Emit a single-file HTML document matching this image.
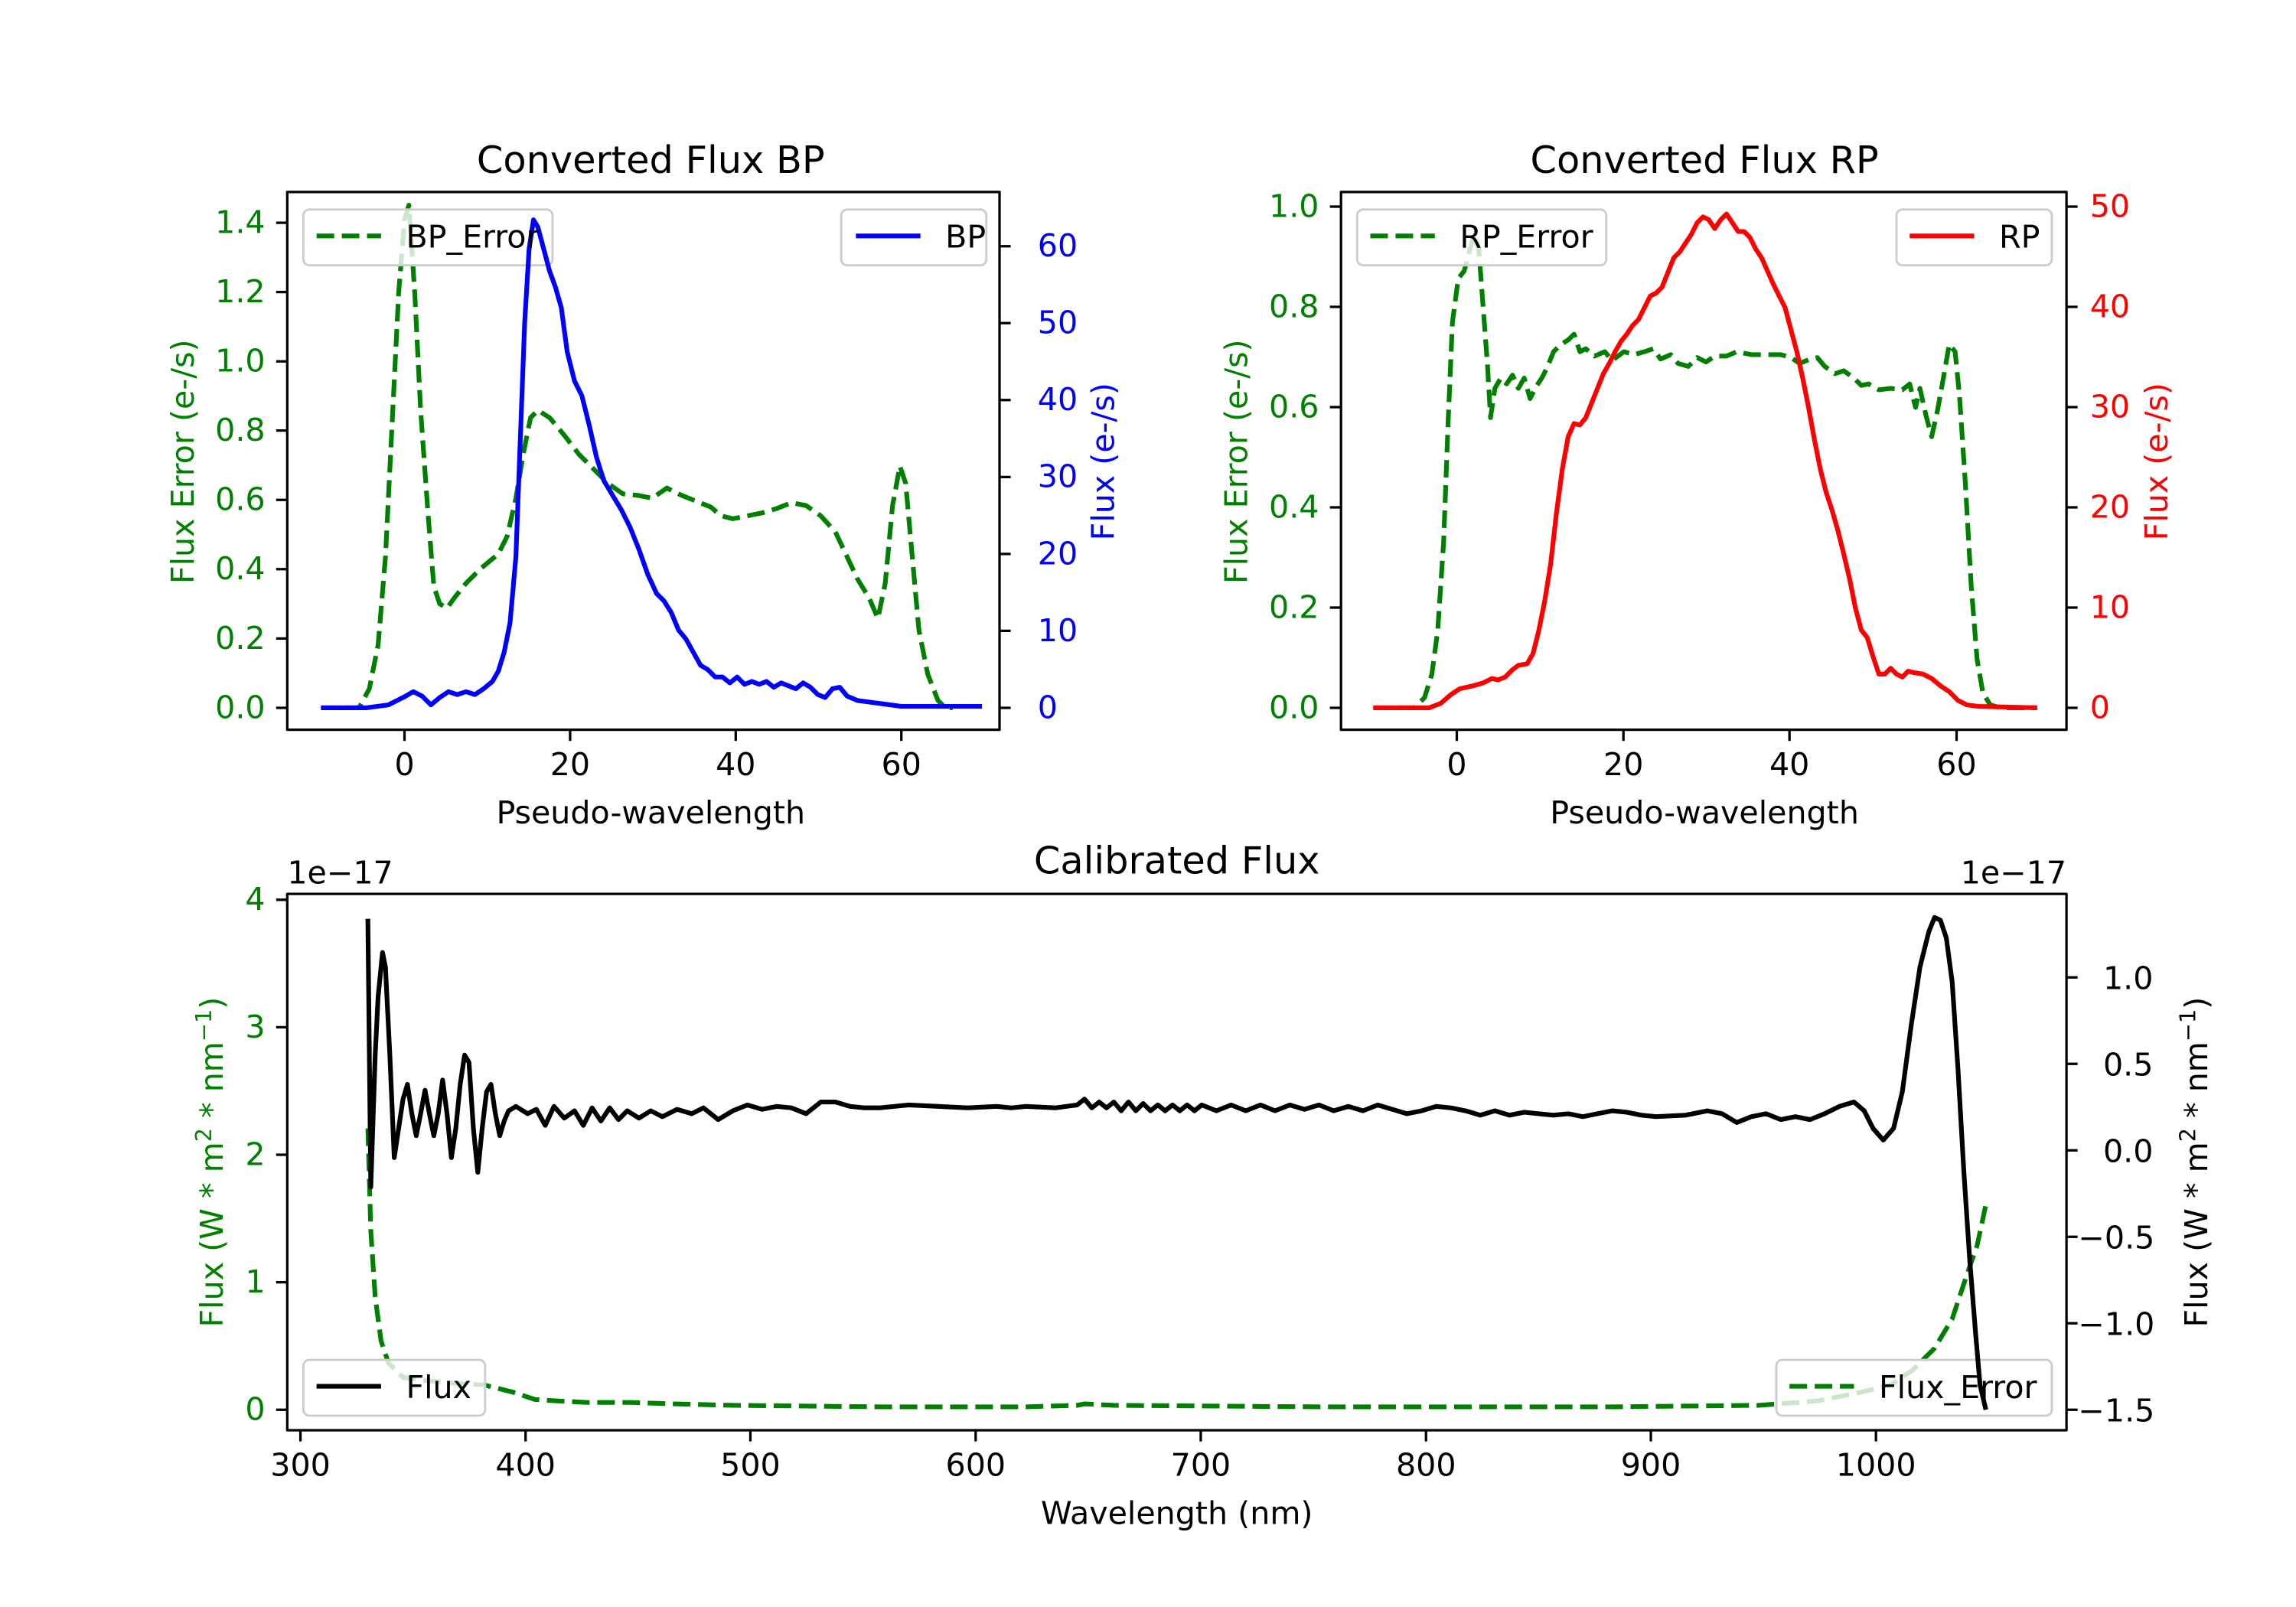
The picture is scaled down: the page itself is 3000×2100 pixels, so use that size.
<!DOCTYPE html>
<html><head><meta charset="utf-8"><style>
html,body{margin:0;padding:0;background:#fff;}
svg{display:block;}
text{font-family:"DejaVu Sans","Liberation Sans",sans-serif;font-size:21.5px;}
.t{font-size:25.8px;}
.s{font-size:15px;}
</style></head><body>
<svg width="3000" height="2100" viewBox="0 0 1566.6 1096.6" xmlns="http://www.w3.org/2000/svg">
<rect width="1566.6" height="1096.6" fill="#fff"/>
<g fill="none" stroke-linejoin="round" stroke-linecap="butt">
<!-- ===== Top-left ===== -->
<polyline stroke="green" stroke-width="3.2" stroke-dasharray="12,5.2" points="219,483 245,483 252,470 258,440 263,380 268,280 272,200 276,150 279,140 283,200 287,280 292,350 296,400 300,412 305,415 310,408 318,398 328,388 340,378 346,366 352,340 357,310 362,285 367,280 375,285 385,297 395,310 405,320 415,330 425,337 435,338 445,340 455,333 465,338 475,342 485,346 492,352 500,354 510,352 520,350 530,347 540,343 550,345 560,352 570,363 578,380 585,395 593,408 599,422 604,398 609,345 614,318 618,330 622,375 627,430 633,460 640,478 645,483 650,483"/>
<rect x="207" y="143" width="170" height="38" rx="4" fill="#fff" fill-opacity="0.8" stroke="#ccc" stroke-width="1.5"/>
<line x1="216" y1="161" x2="260" y2="161" stroke="green" stroke-width="3.2" stroke-dasharray="12,5.2"/>
<polyline stroke="blue" stroke-width="3.2" points="219,483 250,483 265,481 275,476 282,472 288,475 294,481 300,476 306,472 312,474 318,472 324,474 330,470 336,465 340,458 344,445 348,425 352,380 355,300 358,220 361,170 364,150 367,155 371,170 375,185 379,196 383,210 387,240 392,260 397,270 402,290 407,312 412,328 418,338 424,348 430,360 436,375 442,392 448,405 453,410 458,418 463,430 468,436 473,445 478,454 483,457 488,462 493,462 498,466 503,462 508,467 513,465 518,467 523,465 528,469 533,466 538,468 543,470 548,466 553,469 558,474 563,476 568,470 573,469 578,475 585,478 600,480 615,482 640,482 670,482"/>
<rect x="574" y="143" width="99" height="38" rx="4" fill="#fff" fill-opacity="0.8" stroke="#ccc" stroke-width="1.5"/>
<line x1="584" y1="161" x2="628" y2="161" stroke="blue" stroke-width="3.2"/>
<rect x="196" y="131" width="486" height="367" stroke="#000" stroke-width="1.7"/>
<!-- ===== Top-right ===== -->
<polyline stroke="green" stroke-width="3.2" stroke-dasharray="12,5.2" points="937,483 965,483 972,476 977,460 981,430 985,370 988,290 991,220 995,190 999,185 1003,170 1006,160 1009,170 1012,210 1015,250 1017,285 1020,265 1024,258 1028,262 1032,256 1036,265 1040,258 1044,272 1048,264 1052,258 1056,250 1060,240 1065,235 1070,232 1074,228 1078,240 1082,238 1088,243 1095,240 1100,246 1108,240 1115,242 1122,240 1128,238 1133,245 1140,242 1145,248 1152,250 1158,244 1164,247 1170,243 1178,243 1185,240 1195,242 1205,242 1215,242 1222,244 1228,248 1235,245 1240,244 1245,250 1252,255 1258,253 1265,258 1270,263 1275,262 1282,266 1290,265 1298,266 1303,262 1307,278 1310,265 1314,283 1318,298 1322,280 1326,258 1330,235 1334,240 1337,270 1341,330 1345,400 1349,450 1353,473 1358,481 1365,483 1390,483"/>
<rect x="926" y="143" width="170" height="38" rx="4" fill="#fff" fill-opacity="0.8" stroke="#ccc" stroke-width="1.5"/>
<line x1="935" y1="161" x2="979" y2="161" stroke="green" stroke-width="3.2" stroke-dasharray="12,5.2"/>
<polyline stroke="red" stroke-width="3.2" points="937,483 975,483 983,480 990,474 996,470 1005,468 1012,466 1018,463 1022,464 1027,462 1032,457 1036,454 1042,453 1046,446 1050,430 1054,410 1058,385 1062,350 1066,320 1070,298 1074,289 1078,290 1082,285 1086,275 1090,265 1094,255 1098,248 1102,240 1106,233 1110,228 1114,222 1118,218 1122,210 1126,202 1130,200 1134,196 1138,186 1142,176 1146,172 1150,166 1154,160 1158,152 1162,148 1166,150 1170,156 1174,150 1178,146 1182,152 1186,158 1190,158 1194,162 1198,170 1202,176 1206,185 1210,194 1214,202 1218,210 1222,225 1226,240 1230,258 1234,278 1238,300 1242,320 1246,336 1250,348 1254,362 1258,378 1262,395 1266,415 1270,430 1274,435 1278,448 1282,460 1286,460 1290,456 1294,460 1298,462 1302,458 1306,459 1312,460 1318,463 1324,468 1330,472 1336,478 1342,481 1350,482 1390,483"/>
<rect x="1294" y="143" width="106" height="38" rx="4" fill="#fff" fill-opacity="0.8" stroke="#ccc" stroke-width="1.5"/>
<line x1="1303" y1="161" x2="1347" y2="161" stroke="red" stroke-width="3.2"/>
<rect x="915" y="131" width="495" height="367" stroke="#000" stroke-width="1.7"/>
<!-- ===== Bottom ===== -->
<polyline stroke="green" stroke-width="3.2" stroke-dasharray="12,5.2" points="251,770 253,840 256,885 260,915 265,930 275,940 290,942 310,944 330,945 350,950 365,955 380,956 400,957 430,957 460,958 500,959 600,960 700,960 735,959 740,958 760,959 900,960 1100,960 1200,959 1240,956 1270,950 1290,945 1305,935 1320,920 1332,900 1342,870 1349,850 1355,822"/>
<rect x="1212" y="928" width="188" height="38" rx="4" fill="#fff" fill-opacity="0.8" stroke="#ccc" stroke-width="1.5"/>
<line x1="1221" y1="946" x2="1265" y2="946" stroke="green" stroke-width="3.2" stroke-dasharray="12,5.2"/>
<polyline stroke="#000" stroke-width="3.2" points="251,627 253,810 256,720 258,680 261,650 263,660 266,720 269,790 272,770 275,750 278,740 281,760 284,775 287,760 290,744 293,760 296,775 299,760 302,737 305,760 308,790 311,770 314,740 317,720 320,725 323,770 326,800 329,770 332,745 335,740 338,760 341,775 344,765 347,758 352,755 360,760 366,757 372,768 378,755 385,763 392,758 398,768 404,756 410,765 416,756 422,764 428,758 436,763 444,758 452,762 462,757 472,760 480,756 490,764 500,758 510,754 520,757 530,755 540,756 550,760 560,752 570,752 580,755 590,756 600,756 620,754 640,755 660,756 680,755 690,756 700,755 720,756 735,754 740,750 745,756 750,752 755,756 760,752 765,758 770,752 775,758 780,753 785,758 790,754 795,758 800,754 805,758 810,754 815,758 820,754 830,758 840,754 850,758 860,754 870,758 880,754 890,757 900,754 910,758 920,755 930,758 940,754 950,757 960,760 970,758 980,755 990,756 1000,758 1010,761 1020,758 1030,761 1040,759 1050,760 1060,761 1070,760 1080,762 1090,760 1100,758 1110,759 1120,761 1130,762 1150,761 1165,758 1175,760 1185,766 1195,762 1205,760 1215,764 1225,762 1235,764 1245,760 1255,755 1265,752 1272,758 1278,770 1285,778 1292,770 1298,745 1304,700 1310,660 1316,636 1320,626 1324,628 1328,640 1332,670 1336,730 1340,800 1344,860 1348,910 1351,945 1355,962"/>
<rect x="207" y="928" width="124" height="38" rx="4" fill="#fff" fill-opacity="0.8" stroke="#ccc" stroke-width="1.5"/>
<line x1="216" y1="946" x2="260" y2="946" stroke="#000" stroke-width="3.2"/>
<rect x="196" y="610" width="1214" height="366" stroke="#000" stroke-width="1.7"/>
<!-- ticks -->
<g stroke="#000" stroke-width="1.7">
<path d="M276,498v7.6M389,498v7.6M502,498v7.6M615,498v7.6"/>
<path d="M196,483h-7.6M196,435.7h-7.6M196,388.4h-7.6M196,341.1h-7.6M196,293.8h-7.6M196,246.6h-7.6M196,199.3h-7.6M196,152h-7.6"/>
<path d="M682,483h7.6M682,430.5h7.6M682,378h7.6M682,325.5h7.6M682,273h7.6M682,220.5h7.6M682,168h7.6"/>
<path d="M994,498v7.6M1107.7,498v7.6M1221,498v7.6M1335,498v7.6"/>
<path d="M915,483h-7.6M915,414.6h-7.6M915,346.2h-7.6M915,277.8h-7.6M915,209.4h-7.6M915,141h-7.6"/>
<path d="M1410,483h7.6M1410,414.6h7.6M1410,346.2h7.6M1410,277.8h7.6M1410,209.4h7.6M1410,141h7.6"/>
<path d="M205,976v7.6M358.6,976v7.6M512,976v7.6M665.7,976v7.6M819.3,976v7.6M973,976v7.6M1126.4,976v7.6M1280,976v7.6"/>
<path d="M196,962h-7.6M196,875h-7.6M196,788h-7.6M196,701h-7.6M196,614h-7.6"/>
<path d="M1410,962h7.6M1410,903h7.6M1410,844h7.6M1410,785h7.6M1410,726h7.6M1410,667h7.6"/>
</g>
</g>
<!-- text -->
<g fill="#000">
<text class="t" x="444" y="118" text-anchor="middle">Converted Flux BP</text>
<text class="t" x="1163" y="118" text-anchor="middle">Converted Flux RP</text>
<text class="t" x="803" y="596" text-anchor="middle">Calibrated Flux</text>
<text x="277" y="169">BP_Error</text>
<text x="645" y="169">BP</text>
<text x="996" y="169">RP_Error</text>
<text x="1364" y="169">RP</text>
<text x="277" y="954">Flux</text>
<text x="1282" y="954">Flux_Error</text>
<g text-anchor="middle">
<text x="276" y="529">0</text><text x="389" y="529">20</text><text x="502" y="529">40</text><text x="615" y="529">60</text>
<text x="994" y="529">0</text><text x="1107.7" y="529">20</text><text x="1221" y="529">40</text><text x="1335" y="529">60</text>
<text x="205" y="1007">300</text><text x="358.6" y="1007">400</text><text x="512" y="1007">500</text><text x="665.7" y="1007">600</text><text x="819.3" y="1007">700</text><text x="973" y="1007">800</text><text x="1126.4" y="1007">900</text><text x="1280" y="1007">1000</text>
<text x="444" y="562">Pseudo-wavelength</text>
<text x="1163" y="562">Pseudo-wavelength</text>
<text x="803" y="1040">Wavelength (nm)</text>
</g>
<text x="196" y="603">1e−17</text>
<text x="1410" y="603" text-anchor="end">1e−17</text>
<g text-anchor="start">
<text x="1418" y="970">−1.5</text><text x="1418" y="911">−1.0</text><text x="1418" y="852">−0.5</text><text x="1435" y="793">0.0</text><text x="1435" y="734">0.5</text><text x="1435" y="675">1.0</text>
</g>
<text transform="translate(1506,793) rotate(-90)" text-anchor="middle">Flux (W * m<tspan class="s" dy="-8">2</tspan><tspan dy="8"> * nm</tspan><tspan class="s" dy="-8">−1</tspan><tspan dy="8">)</tspan></text>
</g>
<g fill="green" text-anchor="end">
<text x="181" y="490">0.0</text><text x="181" y="442.7">0.2</text><text x="181" y="395.4">0.4</text><text x="181" y="348.1">0.6</text><text x="181" y="300.8">0.8</text><text x="181" y="253.6">1.0</text><text x="181" y="206.3">1.2</text><text x="181" y="159">1.4</text>
<text x="900" y="490">0.0</text><text x="900" y="421.6">0.2</text><text x="900" y="353.2">0.4</text><text x="900" y="284.8">0.6</text><text x="900" y="216.4">0.8</text><text x="900" y="148">1.0</text>
<text x="181" y="969">0</text><text x="181" y="882">1</text><text x="181" y="795">2</text><text x="181" y="708">3</text><text x="181" y="621">4</text>
</g>
<g fill="green" text-anchor="middle">
<text transform="translate(132,315) rotate(-90)">Flux Error (e-/s)</text>
<text transform="translate(851,315) rotate(-90)">Flux Error (e-/s)</text>
<text transform="translate(152,793) rotate(-90)">Flux (W * m<tspan class="s" dy="-8">2</tspan><tspan dy="8"> * nm</tspan><tspan class="s" dy="-8">−1</tspan><tspan dy="8">)</tspan></text>
</g>
<g fill="blue">
<text x="708" y="490">0</text><text x="708" y="437.5">10</text><text x="708" y="385">20</text><text x="708" y="332.5">30</text><text x="708" y="280">40</text><text x="708" y="227.5">50</text><text x="708" y="175">60</text>
<text transform="translate(760,315) rotate(-90)" text-anchor="middle">Flux (e-/s)</text>
</g>
<g fill="red">
<text x="1426" y="490">0</text><text x="1426" y="421.6">10</text><text x="1426" y="353.2">20</text><text x="1426" y="284.8">30</text><text x="1426" y="216.4">40</text><text x="1426" y="148">50</text>
<text transform="translate(1479,315) rotate(-90)" text-anchor="middle">Flux (e-/s)</text>
</g>
</svg>
</body></html>
